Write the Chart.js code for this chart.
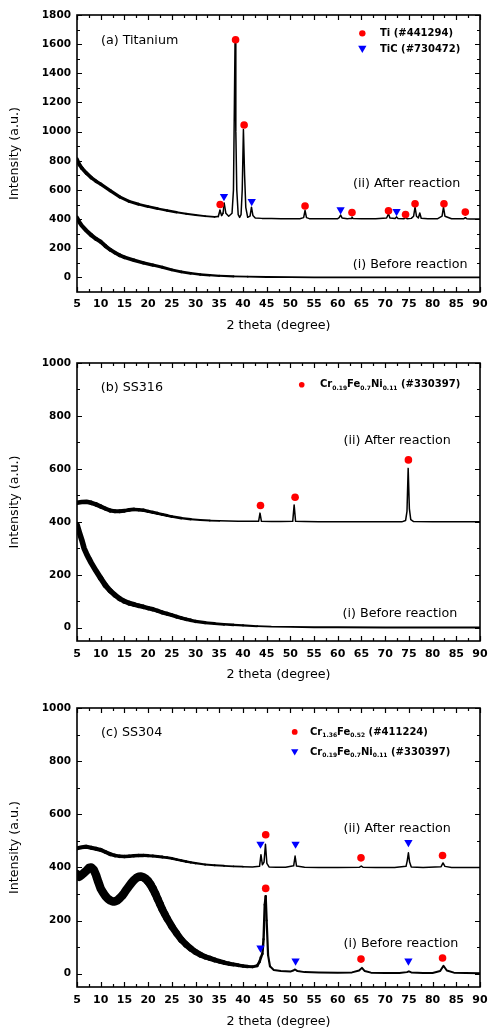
<!DOCTYPE html>
<html><head><meta charset="utf-8">
<script src="https://cdn.jsdelivr.net/npm/chart.js@4/dist/chart.umd.min.js"></script>
<style>
html,body{margin:0;padding:0;background:#fff;}
#wrap{position:relative;width:489px;height:1031px;overflow:hidden;}
canvas{position:absolute;left:0;}
</style></head><body>
<div id="wrap">
<canvas id="ca" width="489" height="345" style="top:0px"></canvas>
<canvas id="cb" width="489" height="345" style="top:345px"></canvas>
<canvas id="cc" width="489" height="341" style="top:690px"></canvas>
</div>
<script>
// ---------- tick values ----------
const xTicks = [5,7.5,10,12.5,15,17.5,20,22.5,25,27.5,30,32.5,35,37.5,40,42.5,45,47.5,50,52.5,55,57.5,60,62.5,65,67.5,70,72.5,75,77.5,80,82.5,85,87.5,90];
const yTicksA = [0,100,200,300,400,500,600,700,800,900,1000,1100,1200,1300,1400,1500,1600,1700,1800];
const yTicksBC = [0,100,200,300,400,500,600,700,800,900,1000];

// ---------- (a) Titanium ----------
const aAfterX = [5,5.5,6,7,8,9,10,12,14,16,18,20,22,24,26,28,30,32,34,34.8,35.15,35.5,35.8,36.05,36.4,37.0,37.7,38.0,38.2,38.33,38.5,38.7,39.0,39.3,39.6,39.85,40.1,40.35,40.6,41.0,41.5,41.8,42.1,42.6,44,46,48,50,52,52.8,53.1,53.4,54,56,58,60,60.3,60.6,60.9,62,62.8,63.0,63.2,65,68,70.3,70.7,71.0,72.1,72.4,72.7,74.0,74.3,74.6,75.5,76.0,76.3,76.6,77.0,77.3,77.6,79,81,82.0,82.3,82.6,84,86.6,86.9,87.2,88,90];
const aAfterY = [810,775,750,715,685,660,640,595,552,522,502,486,472,459,447,437,428,420,415,418,460,425,440,508,440,420,440,600,1200,1605,1000,600,430,412,430,600,1015,700,480,412,420,482,425,408,405,404,403,403,402,410,460,410,403,402,402,403,410,428,408,402,405,414,405,402,402,408,437,408,404,415,404,403,410,403,405,420,483,420,408,442,406,402,402,420,483,420,402,403,410,403,401,401];
const aBeforeX = [5,5.5,6,7,8,9,10,11,12,13,14,15,17,19,21,23,25,27,29,31,33,35,38,41,45,50,55,60,70,80,90];
const aBeforeY = [410,380,355,320,290,265,245,215,190,170,152,138,118,100,85,70,52,38,28,20,15,11,7,5,3,2,1,1,0,0,0];
const tiX = [35.2,38.45,40.25,53.1,63.0,70.7,74.3,76.3,82.4,86.9];
const tiY = [500,1630,1045,490,445,457,432,505,505,448];
const ticX = [36.0,41.85,60.6,72.4];
const ticY = [556,521,464,452];

// ---------- (b) SS316 ----------
const bAfterX = [5,6,7,8,9,10,11,12,13,14,15,16,17,18,19,20,21,22,23,24,25,27,29,31,33,35,37,39,41,43.3,43.6,43.9,46,48,50.5,50.8,51.1,53,56,60,65,70,73.5,74.3,74.6,74.85,75.1,75.4,76,80,85,90];
const bAfterY = [472,475,476,472,466,458,450,443,440,440,442,445,447,446,444,440,436,432,428,424,420,414,410,407,405,404,403,402,402,402,433,402,401,401,402,464,402,401,400,400,400,400,400,405,440,602,450,408,401,400,400,400];
const bBeforeX = [5,5.5,6,6.5,7,7.5,8,9,10,11,12,13,14,15,16,17,18,19,20,21,22,23,24,25,26,27,28,29,30,32,34,36,38,40,43,46,50,55,60,70,80,90];
const bBeforeY = [390,360,332,300,280,262,245,215,187,160,140,124,110,100,93,88,83,79,74,70,64,58,53,48,42,37,32,28,24,19,16,13,11,9,6,4,3,2,2,1,1,1];
const crfeniBX = [43.7,51.0,74.9];
const crfeniBY = [462,493,634];

// ---------- (c) SS304 ----------
const cAfterX = [5,6,7,8,9,10,11,12,13,14,15,16,17,18,19,20,21,22,23,24,25,26,27,28,29,30,32,34,36,38,40,42,43.5,43.8,44.1,44.45,44.75,45.05,45.5,47,49,50.7,51.0,51.3,53,56,60,64.6,64.95,65.3,68,72,74.4,74.65,74.9,75.15,75.5,78,81.8,82.2,82.6,84,87,90];
const cAfterY = [472,476,478,474,470,466,458,450,445,442,441,442,444,445,445,444,443,441,439,437,434,430,426,422,419,416,411,408,406,404,403,402,404,448,410,420,487,415,402,401,401,406,443,405,401,400,400,401,405,401,400,400,404,425,455,420,402,400,403,417,404,400,400,400];
const cBeforeX = [5,5.5,6,6.5,7,7.5,8,8.5,9,9.5,10,10.5,11,11.5,12,12.5,13,13.5,14,14.5,15,15.5,16,16.5,17,17.5,18,18.5,19,19.5,20,20.5,21,21.5,22,22.5,23,23.5,24,25,26,27,28,29,30,31,32,33,34,35,36,37,38,39,40,41,42,43,43.5,43.8,44.1,44.35,44.6,44.8,45.0,45.3,45.7,46.5,48,50,50.6,51.0,51.5,53,56,60,63,64.5,65.1,65.7,67,70,73,74.6,75.0,75.5,78,80,81.6,82.3,83.0,84.5,87,90];
const cBeforeY = [375,365,372,380,388,398,400,392,372,345,320,305,292,282,276,272,272,276,284,293,305,318,330,342,352,360,365,366,363,357,348,336,320,302,282,262,242,225,208,178,152,128,110,95,82,72,64,58,52,47,42,38,35,32,29,27,26,30,45,62,75,130,260,292,200,70,28,14,10,8,12,16,10,6,5,4,5,12,22,10,4,3,3,6,9,5,3,3,10,30,12,4,3,2];
const crfeX = [44.8,64.9,82.1,44.8,64.9,82.1];
const crfeY = [523,436,445,321,55,59];
const crfeniCX = [43.7,51.1,74.9,43.7,51.1,74.9];
const crfeniCY = [488,488,494,97,48,48];

// ---------- styles (noise-band line widths, tapering with angle) ----------
const FONT = 'DejaVu Sans';
const RED = '#ff0000', BLUE = '#0000ff';
const taper = (w0, x0, w1, x1) => x => x <= x0 ? w0 : x >= x1 ? w1 : w0 + (w1 - w0) * (x - x0) / (x1 - x0);
const bandAAfter = taper(3.8, 5, 1.5, 36);
const bandABefore = taper(4.2, 8, 1.8, 40);
const bandBAfter = taper(4.6, 8, 1.5, 36);
const bandBBefore = taper(5.6, 10, 1.8, 44);
const bandCAfter = taper(4.2, 8, 1.5, 40);
const bandCBefore = taper(8.5, 20, 2, 46);

const toPts = (xs, ys) => xs.map((x, i) => ({x, y: ys[i]}));

function drawMarker(ctx, style, x, y, r, color) {
  ctx.fillStyle = color;
  ctx.beginPath();
  if (style === 'circle') {
    ctx.arc(x, y, r, 0, Math.PI * 2);
  } else {
    const h = r * 1.5, w = r * Math.sqrt(3);
    ctx.moveTo(x - w / 2, y - h / 2);
    ctx.lineTo(x + w / 2, y - h / 2);
    ctx.lineTo(x, y + h / 2);
    ctx.closePath();
  }
  ctx.fill();
}

function drawRich(ctx, str, x, y) {
  const parts = [];
  const re = /_\{([^}]*)\}/g;
  let last = 0, m;
  while ((m = re.exec(str))) {
    if (m.index > last) parts.push({t: str.slice(last, m.index)});
    parts.push({t: m[1], sub: true});
    last = re.lastIndex;
  }
  if (last < str.length) parts.push({t: str.slice(last)});
  let cx = x;
  ctx.textAlign = 'left';
  ctx.textBaseline = 'middle';
  ctx.fillStyle = '#000';
  for (const p of parts) {
    ctx.font = p.sub ? `bold 6px "${FONT}"` : `bold 10px "${FONT}"`;
    ctx.fillText(p.t, cx, p.sub ? y + 3.5 : y);
    cx += ctx.measureText(p.t).width;
  }
}

const framePlugin = {
  id: 'frame',
  afterDraw(chart) {
    const {ctx, chartArea: a, scales: {x, y}} = chart;
    const cfg = chart.config.options.plugins.frame;
    ctx.save();
    ctx.strokeStyle = '#000';
    ctx.lineWidth = 1.2;
    ctx.beginPath();
    x.ticks.forEach(t => {
      const px = Math.round(x.getPixelForValue(t.value)) + 0.5;
      const len = (t.value % 5 === 0) ? 5 : 3;
      ctx.moveTo(px, a.bottom); ctx.lineTo(px, a.bottom - len);
      ctx.moveTo(px, a.top); ctx.lineTo(px, a.top + len);
    });
    y.ticks.forEach(t => {
      const py = Math.round(y.getPixelForValue(t.value)) + 0.5;
      const len = (t.value % cfg.yMajor === 0) ? 5 : 3;
      ctx.moveTo(a.left, py); ctx.lineTo(a.left + len, py);
      ctx.moveTo(a.right, py); ctx.lineTo(a.right - len, py);
    });
    ctx.stroke();
    ctx.lineWidth = 1.6;
    ctx.strokeRect(a.left, a.top, a.right - a.left, a.bottom - a.top);
    ctx.fillStyle = '#000';
    ctx.textBaseline = 'middle';
    ctx.textAlign = 'left';
    ctx.font = `12.7px "${FONT}"`;
    cfg.texts.forEach(t => {
      ctx.fillText(t.text, x.getPixelForValue(t.x), y.getPixelForValue(t.y));
    });
    cfg.legend.forEach(l => {
      const my = y.getPixelForValue(l.y);
      drawMarker(ctx, l.style, x.getPixelForValue(l.mx), my, l.r, l.color);
      drawRich(ctx, l.label, x.getPixelForValue(l.tx), my);
    });
    ctx.restore();
  }
};

function makePanel(p) {
  const datasets = [];
  p.markers.forEach(m => datasets.push({
    data: toPts(m.x, m.y), showLine: false,
    pointStyle: m.style, rotation: m.style === 'triangle' ? 180 : 0,
    pointRadius: m.style === 'triangle' ? 4.8 : 3.8,
    pointBackgroundColor: m.color, pointBorderWidth: 0
  }));
  p.curves.forEach(c => datasets.push({
    data: toPts(c.x, c.y), showLine: true, pointRadius: 0,
    borderColor: '#000', borderWidth: 1.5, tension: 0,
    borderJoinStyle: 'round', borderCapStyle: 'round',
    segment: { borderWidth: ctx => c.band((ctx.p0.parsed.x + ctx.p1.parsed.x) / 2) }
  }));
  new Chart(document.getElementById(p.id), {
    type: 'scatter',
    data: { datasets },
    plugins: [framePlugin],
    options: {
      responsive: false, animation: false, devicePixelRatio: 1, events: [],
      layout: { padding: { top: p.padTop, right: 9, left: 0, bottom: 0 } },
      plugins: {
        legend: { display: false }, tooltip: { enabled: false },
        frame: { yMajor: p.yMajor, texts: p.texts, legend: p.legend }
      },
      scales: {
        x: {
          type: 'linear', min: 5, max: 90,
          afterBuildTicks: s => { s.ticks = xTicks.map(v => ({value: v})); },
          afterFit: s => { s.height = p.xAxisH; s.paddingLeft = 0; s.paddingRight = 0; },
          grid: { display: false, drawTicks: false }, border: { display: false },
          ticks: { autoSkip: false, maxRotation: 0, padding: p.xLabelPad, color: '#000',
                   font: { family: FONT, size: 11, weight: 'bold' },
                   callback: v => (v % 5 === 0 ? String(v) : '') },
          title: { display: true, text: '2 theta (degree)', color: '#000',
                   font: { family: FONT, size: 12.7 }, padding: { top: 0, bottom: p.titlePadB } }
        },
        y: {
          type: 'linear', min: p.yMin, max: p.yMax,
          afterBuildTicks: s => { s.ticks = p.yTicks.map(v => ({value: v})); },
          afterFit: s => { s.width = 77; s.paddingTop = 0; s.paddingBottom = 0; },
          grid: { display: false, drawTicks: false }, border: { display: false },
          ticks: { autoSkip: false, padding: 6, color: '#000',
                   font: { family: FONT, size: 10.5, weight: 'bold' },
                   callback: v => (v % p.yMajor === 0 ? String(v) : '') },
          title: { display: true, text: 'Intensity (a.u.)', color: '#000',
                   font: { family: FONT, size: 12.7 }, padding: { top: 7.4, bottom: 0 } }
        }
      }
    }
  });
}

makePanel({
  id: 'ca', yMin: -100, yMax: 1800, yTicks: yTicksA, yMajor: 200,
  padTop: 15, xAxisH: 53, xLabelPad: 5.7, titlePadB: 11.7,
  curves: [{x: aAfterX, y: aAfterY, band: bandAAfter}, {x: aBeforeX, y: aBeforeY, band: bandABefore}],
  markers: [{x: tiX, y: tiY, style: 'circle', color: RED}, {x: ticX, y: ticY, style: 'triangle', color: BLUE}],
  texts: [
    {text: '(a) Titanium', x: 10.06, y: 1621},
    {text: '(ii) After reaction', x: 63.2, y: 640},
    {text: '(i) Before reaction', x: 63.15, y: 86}
  ],
  legend: [
    {style: 'circle', color: RED, r: 3.2, mx: 65.18, tx: 68.91, y: 1674, label: 'Ti (#441294)'},
    {style: 'triangle', color: BLUE, r: 4.8, mx: 65.18, tx: 68.91, y: 1564, label: 'TiC (#730472)'}
  ]
});

makePanel({
  id: 'cb', yMin: -50, yMax: 1000, yTicks: yTicksBC, yMajor: 200,
  padTop: 18, xAxisH: 49, xLabelPad: 6.7, titlePadB: 7.4,
  curves: [{x: bAfterX, y: bAfterY, band: bandBAfter}, {x: bBeforeX, y: bBeforeY, band: bandBBefore}],
  markers: [{x: crfeniBX, y: crfeniBY, style: 'circle', color: RED}],
  texts: [
    {text: '(b) SS316', x: 10.0, y: 908},
    {text: '(ii) After reaction', x: 61.2, y: 708},
    {text: '(i) Before reaction', x: 61.0, y: 52}
  ],
  legend: [
    {style: 'circle', color: RED, r: 2.8, mx: 52.4, tx: 56.25, y: 918, label: 'Cr_{0.19}Fe_{0.7}Ni_{0.11} (#330397)'}
  ]
});

makePanel({
  id: 'cc', yMin: -50, yMax: 1000, yTicks: yTicksBC, yMajor: 200,
  padTop: 18, xAxisH: 44, xLabelPad: 6.4, titlePadB: 1.7,
  curves: [{x: cAfterX, y: cAfterY, band: bandCAfter}, {x: cBeforeX, y: cBeforeY, band: bandCBefore}],
  markers: [{x: crfeX, y: crfeY, style: 'circle', color: RED}, {x: crfeniCX, y: crfeniCY, style: 'triangle', color: BLUE}],
  texts: [
    {text: '(c) SS304', x: 10.06, y: 906},
    {text: '(ii) After reaction', x: 61.2, y: 545},
    {text: '(i) Before reaction', x: 61.2, y: 113}
  ],
  legend: [
    {style: 'circle', color: RED, r: 2.9, mx: 50.92, tx: 54.15, y: 910, label: 'Cr_{1.36}Fe_{0.52} (#411224)'},
    {style: 'triangle', color: BLUE, r: 4.2, mx: 50.92, tx: 54.15, y: 833, label: 'Cr_{0.19}Fe_{0.7}Ni_{0.11} (#330397)'}
  ]
});
</script>
</body></html>
